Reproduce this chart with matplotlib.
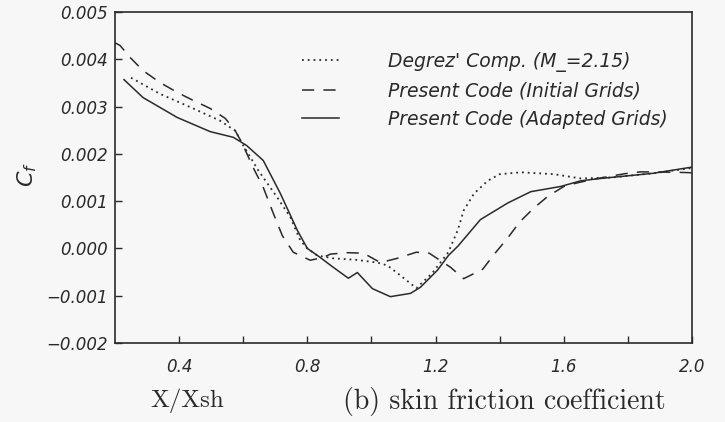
import matplotlib
matplotlib.use("Agg")
import matplotlib.pyplot as plt
import numpy as np

# ---- data (Cf values in units of 1e-3) ----
x_degrez = [0.25, 0.34, 0.444, 0.528, 0.575, 0.60, 0.647, 0.706, 0.747, 0.778, 0.80,
            0.831, 0.881, 0.95, 1.019, 1.05, 1.09, 1.14, 1.19, 1.24, 1.27, 1.2875,
            1.32, 1.3625, 1.40, 1.466, 1.569, 1.653, 1.75, 1.88, 2.0]
cf_degrez = [3.61, 3.27, 2.96, 2.70, 2.49, 2.18, 1.65, 1.08, 0.66, 0.17, 0.0,
             -0.15, -0.21, -0.24, -0.30, -0.36, -0.57, -0.84, -0.52, -0.08, 0.40, 0.80,
             1.16, 1.43, 1.57, 1.61, 1.57, 1.48, 1.50, 1.59, 1.70]

x_initial = [0.2, 0.216, 0.247, 0.2875, 0.34, 0.394, 0.444, 0.497, 0.544, 0.575, 0.597,
             0.631, 0.6625, 0.694, 0.722, 0.756, 0.809, 0.85, 0.872, 0.925, 0.975,
             1.028, 1.08, 1.14, 1.18, 1.247, 1.2875, 1.347, 1.387, 1.425, 1.4625,
             1.506, 1.55, 1.60, 1.644, 1.706, 1.79, 1.84, 1.956, 2.0]
cf_initial = [4.35, 4.29, 4.04, 3.76, 3.51, 3.30, 3.13, 2.96, 2.75, 2.49, 2.22,
              1.71, 1.29, 0.74, 0.27, -0.08, -0.25, -0.19, -0.12, -0.09, -0.10,
              -0.30, -0.21, -0.08, -0.10, -0.40, -0.64, -0.44, -0.09, 0.22, 0.56,
              0.85, 1.10, 1.31, 1.39, 1.48, 1.58, 1.62, 1.61, 1.60]

x_adapted = [0.228, 0.2875, 0.394, 0.497, 0.569, 0.61, 0.6625, 0.716, 0.769, 0.80,
             0.84, 0.881, 0.928, 0.956, 1.003, 1.059, 1.122, 1.153, 1.206, 1.24,
             1.27, 1.34, 1.425, 1.497, 1.59, 1.653, 1.716, 1.88, 2.0]
cf_adapted = [3.57, 3.19, 2.77, 2.47, 2.35, 2.18, 1.86, 1.16, 0.38, 0.0,
              -0.19, -0.40, -0.63, -0.51, -0.85, -1.02, -0.95, -0.82, -0.46, -0.15,
              0.05, 0.61, 0.96, 1.20, 1.31, 1.43, 1.48, 1.59, 1.72]

labels = ["Degrez' Comp. (M_=2.15)",
          "Present Code (Initial Grids)",
          "Present Code (Adapted Grids)"]

x_ticks = [0.4, 0.8, 1.2, 1.6, 2.0]
x_minor = [0.6, 1.0, 1.4, 1.8]
y_ticks = [-0.002, -0.001, 0.0, 0.001, 0.002, 0.003, 0.004, 0.005]
y_ticklabels = ["\u22120.002", "\u22120.001", "0.000", "0.001", "0.002", "0.003", "0.004", "0.005"]

bg = "#f7f7f7"
ink = "#2a2a2a"

fig = plt.figure(figsize=(7.25, 4.22), dpi=100, facecolor=bg)
ax = fig.add_axes([115/725, 1-343/422, (692-115)/725, (343-12)/422], facecolor=bg)

s = 1e-3
l1, = ax.plot(x_degrez, np.array(cf_degrez)*s, color=ink, lw=1.3,
              linestyle=(0, (1.0, 2.2)), label=labels[0])
l2, = ax.plot(x_initial, np.array(cf_initial)*s, color=ink, lw=1.1,
              linestyle=(0, (8, 6)), label=labels[1])
l3, = ax.plot(x_adapted, np.array(cf_adapted)*s, color=ink, lw=1.1,
              linestyle="-", label=labels[2])

ax.set_xlim(0.2, 2.0)
ax.set_ylim(-0.002, 0.005)

ax.set_xticks(x_ticks)
ax.set_xticks(x_minor, minor=True)
ax.set_xticklabels([f"{v:.1f}" for v in x_ticks])
ax.set_yticks(y_ticks)
ax.set_yticklabels(y_ticklabels)
ax.tick_params(axis="both", which="both", direction="in", length=5, width=1, color=ink)
ax.tick_params(axis="x", pad=11)
ax.tick_params(axis="y", pad=5)
for lab in ax.get_xticklabels() + ax.get_yticklabels():
    lab.set_family("DejaVu Sans")
    lab.set_fontstyle("oblique")
    lab.set_fontsize(12)
    lab.set_color(ink)
for sp in ax.spines.values():
    sp.set_color(ink)
    sp.set_linewidth(1.2)

fig.text(27/725, 1-175/422, r"$C_f$", rotation=90, ha="center", va="center",
         fontsize=16, color=ink)

leg = ax.legend(handles=[l1, l2, l3], loc="upper left",
                bbox_to_anchor=((285-115)/577, 1-(35-12)/331),
                frameon=False, handlelength=2.0, handletextpad=2.6,
                labelspacing=0.5,
                prop={"style": "oblique", "size": 13.5, "family": "DejaVu Sans"})
for t in leg.get_texts():
    t.set_color(ink)

fig.text(187/725, 1-401/422, "X/Xsh", ha="center", va="center",
         fontsize=18, family="cmr10", color=ink)
fig.text(343/725, 1-401/422, "(b) skin friction coefficient", ha="left", va="center",
         fontsize=20, family="cmr10", color=ink)

fig.savefig("out.png", dpi=100, facecolor=bg)
